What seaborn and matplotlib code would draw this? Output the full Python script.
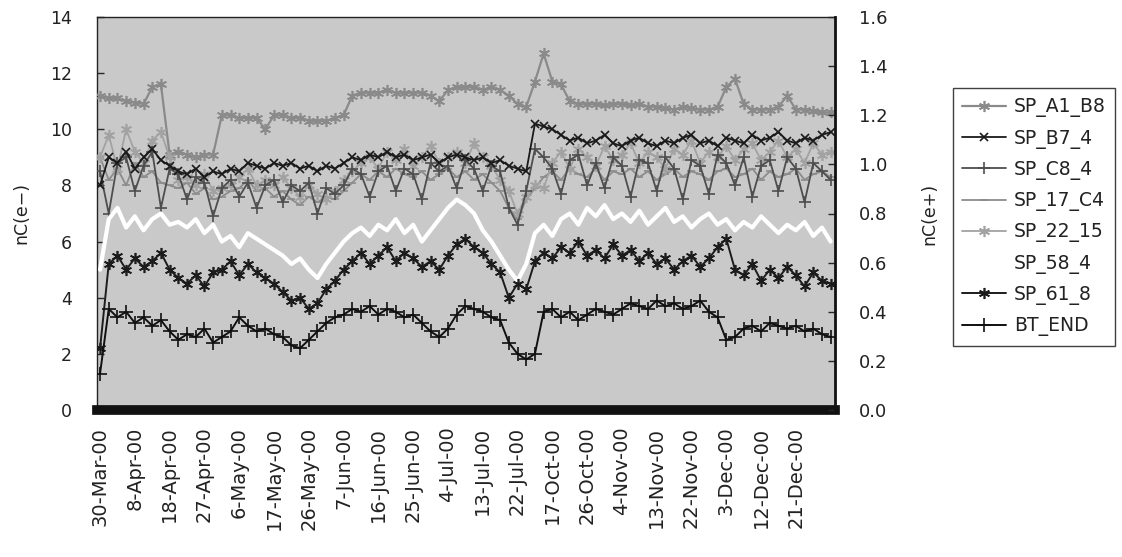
import numpy as np
import pandas as pd
import matplotlib
matplotlib.use("Agg")
import matplotlib.pyplot as plt
import seaborn as sns
from matplotlib.ticker import FormatStrFormatter

# ---------------- data ----------------
tick_labels = ["30-Mar-00", "8-Apr-00", "18-Apr-00", "27-Apr-00", "6-May-00",
               "17-May-00", "26-May-00", "7-Jun-00", "16-Jun-00", "25-Jun-00",
               "4-Jul-00", "13-Jul-00", "22-Jul-00", "17-Oct-00", "26-Oct-00",
               "4-Nov-00", "13-Nov-00", "22-Nov-00", "3-Dec-00", "12-Dec-00",
               "21-Dec-00"]
points_per_label = 4

sp_a1_b8 = [11.2, 11.1, 11.1, 11.0, 10.95, 10.9, 11.5, 11.6, 9.1, 9.2,
            9.1, 9.0, 9.1, 9.1, 10.5, 10.5, 10.4, 10.4, 10.4, 10.0,
            10.5, 10.5, 10.4, 10.4, 10.3, 10.3, 10.3, 10.4, 10.5, 11.2,
            11.3, 11.3, 11.3, 11.4, 11.3, 11.3, 11.3, 11.3, 11.2, 11.0,
            11.4, 11.5, 11.5, 11.5, 11.4, 11.5, 11.4, 11.2, 10.9, 10.8,
            11.7, 12.7, 11.7, 11.6, 11.0, 10.9, 10.9, 10.9, 10.85, 10.9,
            10.9, 10.85, 10.9, 10.8, 10.8, 10.75, 10.7, 10.8, 10.75, 10.7,
            10.7, 10.8, 11.5, 11.8, 10.9, 10.7, 10.7, 10.7, 10.8, 11.2,
            10.7, 10.7, 10.65, 10.6, 10.6]
sp_b7_4 = [8.0, 9.0, 8.8, 9.2, 8.6, 9.0, 9.3, 8.9, 8.7, 8.5,
           8.4, 8.6, 8.3, 8.5, 8.4, 8.6, 8.5, 8.8, 8.7, 8.6,
           8.8, 8.7, 8.8, 8.6, 8.7, 8.5, 8.7, 8.6, 8.8, 9.0,
           8.9, 9.1, 9.0, 9.2, 9.0, 9.1, 8.9, 9.0, 9.1, 8.8,
           9.0, 9.1, 9.0, 8.9, 9.0, 8.8, 8.9, 8.7, 8.6, 8.5,
           10.2, 10.1, 10.0, 9.8, 9.6, 9.7, 9.5, 9.6, 9.8, 9.5,
           9.4, 9.6, 9.7, 9.5, 9.4, 9.6, 9.5, 9.7, 9.8, 9.5,
           9.6, 9.4, 9.7, 9.6, 9.5, 9.8, 9.6, 9.7, 9.9, 9.6,
           9.5, 9.7, 9.6, 9.8, 9.9]
sp_c8_4 = [8.5, 7.0, 8.8, 9.0, 7.8, 8.7, 9.2, 7.2, 8.6, 8.4,
           7.5, 8.3, 8.1, 6.9, 7.9, 8.2, 7.6, 8.1, 7.2, 8.0,
           8.2, 7.4, 8.0, 7.8, 8.1, 7.0, 7.9, 7.7, 8.0, 8.6,
           8.4, 7.6, 8.5, 8.7, 7.8, 8.6, 8.4, 7.5, 8.8, 8.5,
           8.7, 7.9, 8.9, 8.6, 7.8, 8.7, 8.5, 7.2, 6.6, 7.8,
           9.3, 9.0, 8.6, 7.7, 8.9, 9.1, 8.0, 8.8, 7.9, 9.0,
           8.7, 7.6, 8.9, 8.8, 7.8, 9.0, 8.6, 7.5, 8.9, 8.7,
           7.7, 9.1, 8.8, 8.0, 9.0, 7.6, 8.7, 8.9, 7.8, 9.0,
           8.6, 7.4, 8.8, 8.5, 8.2]
sp_17_c4 = [9.0, 8.2, 8.6, 8.0, 8.8, 8.3, 8.5, 8.1, 8.0, 7.9,
            8.1, 7.7, 7.9, 7.5, 7.6, 7.8, 7.9, 8.2, 7.8, 7.9,
            7.6, 7.8, 7.5, 7.3, 7.6, 7.4, 7.6, 7.5, 7.8, 8.1,
            8.4, 8.2, 8.5, 8.3, 8.6, 8.4, 8.3, 8.5, 8.2, 8.4,
            8.6, 8.3, 8.5, 8.2, 8.4, 8.1, 7.8, 7.2, 6.8, 7.5,
            7.9, 8.3, 8.5, 8.2, 8.6, 8.4, 8.3, 8.6, 8.2, 8.5,
            8.4, 8.6, 8.3, 8.5, 8.2, 8.4, 8.6, 8.3, 8.5, 8.4,
            8.2, 8.5, 8.6, 8.3, 8.4, 8.6, 8.2, 8.5, 8.3, 8.4,
            8.6, 8.2, 8.4, 8.5, 8.3]
sp_22_15 = [9.0, 9.8, 8.6, 10.0, 9.2, 8.8, 9.6, 9.9, 9.0, 8.2,
            8.3, 8.0, 8.4, 7.8, 7.9, 8.0, 8.3, 8.6, 8.0, 8.2,
            8.0, 8.3, 7.9, 7.6, 8.0, 7.7, 7.5, 7.8, 8.2, 8.5,
            8.8, 9.0, 8.6, 9.2, 8.9, 9.3, 8.7, 9.0, 9.4, 8.8,
            9.0, 9.2, 8.8, 9.5, 9.0, 8.7, 8.2, 7.8, 7.0, 7.6,
            8.0, 7.9, 8.8, 9.2, 8.6, 9.3, 9.0, 8.7, 9.4, 8.9,
            9.1, 9.5, 8.8, 9.2, 9.0, 8.6, 9.3, 9.1, 9.6, 8.8,
            9.2, 9.0, 9.4, 8.9, 9.3, 9.5, 8.9, 9.2, 9.6, 9.0,
            9.3, 8.8, 9.5, 9.1, 9.2]
sp_58_4 = [5.0, 6.8, 7.2, 6.5, 6.9, 6.4, 6.8, 7.0, 6.6, 6.7,
           6.5, 6.8, 6.3, 6.6, 6.0, 6.2, 5.8, 6.3, 6.1, 5.9,
           5.7, 5.5, 5.2, 5.4, 5.0, 4.7, 5.2, 5.6, 6.0, 6.3,
           6.5, 6.2, 6.6, 6.4, 6.8, 6.3, 6.6, 6.0, 6.4, 6.8,
           7.2, 7.5, 7.3, 7.0, 6.4, 6.0, 5.5, 5.0, 4.6, 5.2,
           6.3, 6.6, 6.2, 6.8, 7.0, 6.6, 7.2, 6.9, 7.3, 6.8,
           7.0, 6.7, 7.1, 6.6, 6.9, 7.2, 6.7, 6.9, 6.5, 6.8,
           7.0, 6.6, 6.8, 6.4, 6.7, 6.5, 6.9, 6.6, 6.3, 6.6,
           6.4, 6.7, 6.2, 6.5, 6.0]
sp_61_8 = [2.2, 5.2, 5.5, 5.0, 5.4, 5.1, 5.3, 5.6, 5.0, 4.7,
           4.5, 4.8, 4.4, 4.9, 5.0, 5.3, 4.8, 5.2, 4.9, 4.7,
           4.5, 4.2, 3.9, 4.0, 3.6, 3.8, 4.3, 4.6, 5.0, 5.3,
           5.6, 5.2, 5.5, 5.8, 5.3, 5.6, 5.4, 5.1, 5.3, 5.0,
           5.5, 5.9, 6.1, 5.8, 5.6, 5.2, 4.9, 4.0, 4.5, 4.3,
           5.3, 5.6, 5.4, 5.8, 5.6, 6.0, 5.5, 5.7, 5.4, 5.9,
           5.5, 5.7, 5.3, 5.6, 5.2, 5.4, 5.0, 5.3, 5.5, 5.1,
           5.4, 5.8, 6.1, 5.0, 4.8, 5.2, 4.6, 5.0, 4.7, 5.1,
           4.8, 4.4, 4.9, 4.6, 4.5]
bt_end = [1.3, 3.6, 3.3, 3.5, 3.1, 3.3, 3.0, 3.2, 2.8, 2.5,
          2.7, 2.6, 2.9, 2.4, 2.6, 2.8, 3.3, 3.0, 2.8, 2.9,
          2.7, 2.6, 2.3, 2.2, 2.5, 2.8, 3.1, 3.3, 3.4, 3.6,
          3.5, 3.7, 3.4, 3.6, 3.5, 3.3, 3.4, 3.1, 2.8, 2.6,
          2.9, 3.4, 3.7, 3.6, 3.5, 3.3, 3.2, 2.4, 2.0, 1.8,
          2.0, 3.5, 3.6, 3.3, 3.5, 3.2, 3.4, 3.6, 3.5, 3.4,
          3.6, 3.8, 3.7, 3.6, 3.9, 3.7, 3.8, 3.6, 3.7, 3.9,
          3.5, 3.3, 2.5, 2.6, 2.9, 3.0, 2.8, 3.1, 3.0, 2.9,
          3.0, 2.8, 2.9, 2.7, 2.6]

series = {
    "SP_A1_B8": sp_a1_b8, "SP_B7_4": sp_b7_4, "SP_C8_4": sp_c8_4,
    "SP_17_C4": sp_17_c4, "SP_22_15": sp_22_15, "SP_58_4": sp_58_4,
    "SP_61_8": sp_61_8, "BT_END": bt_end,
}
n = len(sp_a1_b8)
for k, v in series.items():
    assert len(v) == n, (k, len(v))

asterisk = (6, 2, 0)
styles = {
    "SP_A1_B8": dict(color="#8a8a8a", marker=asterisk, ms=8, lw=1.6),
    "SP_B7_4":  dict(color="#1a1a1a", marker="x", ms=5.5, lw=1.3),
    "SP_C8_4":  dict(color="#4e4e4e", marker="+", ms=9, lw=1.3),
    "SP_17_C4": dict(color="#8c8c8c", marker="_", ms=6, lw=1.3),
    "SP_22_15": dict(color="#a2a2a2", marker=asterisk, ms=8, lw=1.3),
    "SP_58_4":  dict(color="#ffffff", marker=None, ms=0, lw=3.0),
    "SP_61_8":  dict(color="#1c1c1c", marker=asterisk, ms=8, lw=1.4),
    "BT_END":   dict(color="#101010", marker="+", ms=10, lw=1.4),
}
draw_order = ["SP_A1_B8", "SP_17_C4", "SP_22_15", "SP_C8_4", "SP_B7_4",
              "SP_58_4", "SP_61_8", "BT_END"]

df = pd.DataFrame({"idx": np.arange(n), **series})

# ---------------- plot ----------------
sns.set_style("white")
plt.rcParams["font.family"] = ["DejaVu Sans"]

fig = plt.figure(figsize=(11.22, 5.57), dpi=100)
ax = fig.add_axes([97 / 1122, 1 - 410 / 557, (835 - 97) / 1122, (410 - 17) / 557])
ax.set_facecolor("#c9c9c9")

handles = {}
for name in draw_order:
    st = styles[name]
    sns.lineplot(data=df, x="idx", y=name, ax=ax, color=st["color"],
                 marker=st["marker"], markersize=st["ms"], markeredgewidth=1.2,
                 markeredgecolor=st["color"], linewidth=st["lw"], label=name,
                 legend=False, zorder=3)
    handles[name] = ax.lines[-1]

ax.set_xlim(-0.35, 84.5)
ax.set_ylim(0, 14)
ax.set_yticks(np.arange(0, 15, 2))
ax.set_xticks(np.arange(0, len(tick_labels) * points_per_label, points_per_label))
ax.set_xticklabels(tick_labels, rotation=90, fontsize=14, color="#222222")
ax.tick_params(axis="x", length=0, pad=12)
ax.tick_params(axis="y", direction="in", length=5, width=1, pad=18,
               labelsize=12.5, labelcolor="#222222")
ax.set_xlabel("")
ax.set_ylabel("nC(e\u2212)", fontsize=12.5, color="#222222", labelpad=14)

for s in ["left", "top"]:
    ax.spines[s].set_color("#222222")
    ax.spines[s].set_linewidth(1.0)
ax.spines["bottom"].set_color("#111111")
ax.spines["bottom"].set_linewidth(7)
ax.spines["right"].set_visible(False)

ax2 = ax.twinx()
ax2.set_ylim(0, 1.6)
ax2.set_yticks(np.arange(0, 1.61, 0.2))
ax2.yaxis.set_major_formatter(FormatStrFormatter("%.1f"))
ax2.tick_params(axis="y", direction="in", length=5, width=1, pad=17,
                labelsize=13, labelcolor="#222222")
ax2.set_ylabel("nC(e+)", fontsize=12.5, color="#222222", labelpad=24)
for s in ["left", "top", "bottom"]:
    ax2.spines[s].set_visible(False)
ax2.spines["right"].set_color("#111111")
ax2.spines["right"].set_linewidth(2)

legend_order = ["SP_A1_B8", "SP_B7_4", "SP_C8_4", "SP_17_C4", "SP_22_15",
                "SP_58_4", "SP_61_8", "BT_END"]
leg = fig.legend([handles[k] for k in legend_order], legend_order,
                 loc="upper left", bbox_to_anchor=(953 / 1122, 1 - 88 / 557),
                 frameon=True, fancybox=False, fontsize=13.5, handlelength=2.3,
                 labelspacing=0.6, borderpad=0.5, handletextpad=0.45,
                 borderaxespad=0)
leg.get_frame().set_edgecolor("#111111")
leg.get_frame().set_linewidth(1.0)
leg.get_frame().set_facecolor("white")
for t in leg.get_texts():
    t.set_color("#222222")

fig.savefig("out.png", dpi=100, facecolor="white")
